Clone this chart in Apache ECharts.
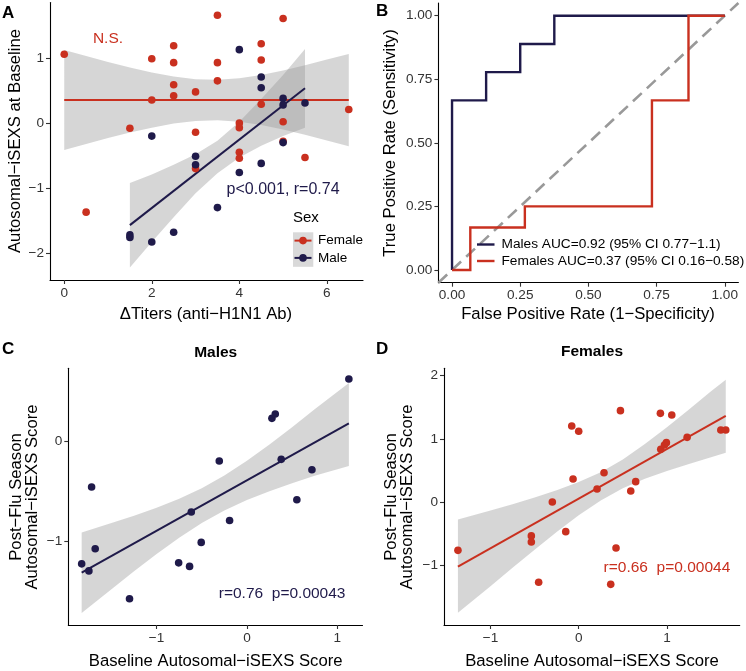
<!DOCTYPE html>
<html>
<head>
<meta charset="utf-8">
<script src="https://cdn.jsdelivr.net/npm/echarts@6/dist/echarts.min.js"></script>
<style>html,body{margin:0;padding:0;background:#fff}#c{width:746px;height:671px}</style>
</head>
<body>
<div id="c"></div>
<script>
// ---------- Panel A: ΔTiters vs baseline score ----------
const aFemaleTiter    = [0, 0.5, 1.5, 2, 2, 2.5, 2.5, 2.5, 2.5, 3, 3, 3, 3.5, 3.5, 3.5, 4, 4, 4, 4, 4.5, 4.5, 4.5, 5, 5, 5, 5.5, 6.5];
const aFemaleBaseline = [1.06, -1.37, -0.08, 0.99, 0.355, 1.19, 0.93, 0.59, 0.42, 0.48, -0.14, -0.70, 1.66, 0.93, 0.65, 0.0, -0.07, -0.45, -0.54, 1.22, 0.97, 0.29, 1.61, 0.02, -0.28, -0.53, 0.21];
const aMaleTiter      = [1.5, 1.5, 2, 2, 2.5, 3, 3, 3.5, 4, 4, 4.5, 4.5, 4.5, 5, 5, 5, 5.5];
const aMaleBaseline   = [-1.72, -1.76, -0.2, -1.83, -1.68, -0.51, -0.64, -1.30, 1.13, -0.76, 0.71, 0.545, -0.62, 0.38, 0.28, -0.30, 0.31];
const aFemaleFitX = [0, 6.5];
const aFemaleFitY = [0.355, 0.355];
const aMaleFitX   = [1.5, 5.5];
const aMaleFitY   = [-1.57, 0.535];
const aFemaleBandX  = [0, 0.5, 1, 1.5, 2, 2.5, 3, 3.5, 4, 4.5, 5, 5.5, 6, 6.5];
const aFemaleBandHi = [1.125, 1.031, 0.941, 0.856, 0.78, 0.717, 0.676, 0.666, 0.689, 0.74, 0.809, 0.889, 0.977, 1.065];
const aFemaleBandLo = [-0.415, -0.321, -0.231, -0.146, -0.07, -0.007, 0.034, 0.045, 0.021, -0.03, -0.099, -0.179, -0.267, -0.355];
const aMaleBandX  = [1.5, 2, 2.5, 3, 3.5, 4, 4.5, 5, 5.5];
const aMaleBandHi = [-0.92, -0.79, -0.64, -0.48, -0.27, 0.02, 0.37, 0.74, 1.14];
const aMaleBandLo = [-2.22, -1.83, -1.45, -1.08, -0.77, -0.53, -0.35, -0.20, -0.07];
const aXTicks = [0, 2, 4, 6];
const aYTicks = [-2, -1, 0, 1];

// ---------- Panel B: ROC curves ----------
const rocMaleFPR   = [0, 0, 0.125, 0.125, 0.25, 0.25, 0.375, 0.375, 1];
const rocMaleTPR   = [0, 0.667, 0.667, 0.778, 0.778, 0.889, 0.889, 1, 1];
const rocFemaleFPR = [0, 0.067, 0.067, 0.267, 0.267, 0.733, 0.733, 0.867, 0.867, 1];
const rocFemaleTPR = [0, 0, 0.167, 0.167, 0.25, 0.25, 0.667, 0.667, 1, 1];
const rocDiagonal  = [-0.05, 1.05];
const bTicks = [0, 0.25, 0.5, 0.75, 1];
const bLegend = ['Males AUC=0.92 (95% CI 0.77\u22121.1)', 'Females AUC=0.37 (95% CI 0.16\u22120.58)'];

// ---------- Panel C: Males baseline vs post-flu ----------
const cBaseline = [-1.83, -1.75, -1.72, -1.68, -1.30, -0.756, -0.635, -0.616, -0.506, -0.306, -0.192, 0.277, 0.314, 0.38, 0.553, 0.72, 1.129];
const cPostFlu  = [-1.22, -1.29, -0.457, -1.07, -1.566, -1.21, -1.245, -0.705, -1.007, -0.199, -0.79, 0.225, 0.268, -0.182, -0.583, -0.285, 0.616];
const cFitX = [-1.83, 1.129];
const cFitY = [-1.308, 0.175];
const cBandX  = [-1.83, -1.5, -1.25, -1, -0.75, -0.5, -0.25, 0, 0.25, 0.5, 0.75, 1.129];
const cBandHi = [-0.908, -0.815, -0.741, -0.662, -0.573, -0.469, -0.343, -0.196, -0.034, 0.137, 0.315, 0.575];
const cBandLo = [-1.708, -1.471, -1.293, -1.122, -0.961, -0.815, -0.690, -0.586, -0.498, -0.419, -0.345, -0.248];
const cXTicks = [-1, 0, 1];
const cYTicks = [-1, 0];

// ---------- Panel D: Females baseline vs post-flu ----------
const dBaseline = [-1.369, -0.537, -0.537, -0.454, -0.299, -0.147, -0.079, -0.064, 0.0, 0.208, 0.287, 0.363, 0.423, 0.473, 0.59, 0.646, 0.926, 0.93, 0.972, 0.994, 1.055, 1.229, 1.611, 1.667];
const dPostFlu  = [-0.758, -0.53, -0.626, -1.263, 0.005, -0.463, 1.205, 0.368, 1.121, 0.21, 0.468, -1.295, -0.721, 1.447, 0.179, 0.326, 1.405, 0.837, 0.905, 0.942, 1.379, 1.026, 1.142, 1.142];
const dFitX = [-1.369, 1.667];
const dFitY = [-1.016, 1.363];
const dBandX  = [-1.369, -1, -0.75, -0.5, -0.25, 0, 0.25, 0.5, 0.75, 1, 1.25, 1.5, 1.667];
const dBandHi = [-0.27, -0.130, -0.029, 0.077, 0.191, 0.319, 0.476, 0.677, 0.919, 1.186, 1.466, 1.753, 1.935];
const dBandLo = [-1.745, -1.324, -1.034, -0.747, -0.469, -0.205, 0.030, 0.221, 0.371, 0.495, 0.606, 0.711, 0.784];
const dXTicks = [-1, 0, 1];
const dYTicks = [-1, 0, 1, 2];

// ---------- styling ----------
const RED = '#C9301F';
const NAVY = '#1F1A4A';
const FONT = 'Liberation Sans, Arial, sans-serif';
const BAND = 'rgba(153,153,153,0.4)';

const zip = (xs, ys) => xs.map((x, i) => [x, ys[i]]);
const minus = v => String(+(+v).toFixed(2)).replace('-', '\u2212');

function axis(idx, type, min, max, ticks, fmt) {
  return {
    type: 'value', gridIndex: idx, min: min, max: max,
    axisLine: { show: true, onZero: false, lineStyle: { color: '#000', width: 1.1 } },
    axisTick: { show: true, length: 4, customValues: ticks, lineStyle: { color: '#333', width: 1.1 } },
    axisLabel: { show: true, customValues: ticks, margin: 6, color: '#333', fontSize: 13.6, fontFamily: FONT, formatter: fmt || minus },
    splitLine: { show: false }
  };
}
function band(idx, xs, hi, lo) {
  return {
    type: 'custom', xAxisIndex: idx, yAxisIndex: idx, z: 1, silent: true, clip: true,
    data: [[xs[0], hi[0]]],
    renderItem: function (params, api) {
      const pts = [];
      for (let i = 0; i < xs.length; i++) pts.push(api.coord([xs[i], hi[i]]));
      for (let i = xs.length - 1; i >= 0; i--) pts.push(api.coord([xs[i], lo[i]]));
      return { type: 'polygon', shape: { points: pts }, style: { fill: BAND, stroke: null } };
    }
  };
}
function line(idx, xs, ys, color, width, z, dash) {
  return {
    type: 'line', xAxisIndex: idx, yAxisIndex: idx, data: zip(xs, ys), z: z || 2,
    showSymbol: false, symbol: 'none', silent: true,
    lineStyle: { color: color, width: width || 2, type: dash || 'solid', cap: 'butt', join: 'miter' }
  };
}
function points(idx, xs, ys, color) {
  return {
    type: 'scatter', xAxisIndex: idx, yAxisIndex: idx, data: zip(xs, ys), z: 3,
    symbol: 'circle', symbolSize: 7.6, itemStyle: { color: color, opacity: 1 }, silent: true
  };
}
function note(idx, x, y, text, color, size) {
  return {
    type: 'scatter', xAxisIndex: idx, yAxisIndex: idx, data: [[x, y]], z: 4, symbolSize: 1, silent: true,
    itemStyle: { color: 'rgba(0,0,0,0)', opacity: 1 },
    label: { show: true, position: 'inside', formatter: text, color: color, opacity: 1, fontSize: size || 15.5, fontFamily: FONT }
  };
}
function txt(x, y, text, opts) {
  opts = opts || {};
  return {
    type: 'text', x: x, y: y, rotation: opts.rot || 0, z: 10,
    style: {
      text: text, fill: opts.color || '#000', align: opts.align || 'center', verticalAlign: 'middle',
      font: (opts.weight || 'normal') + ' ' + (opts.size || 16.7) + 'px ' + FONT, lineHeight: opts.lh || 17
    }
  };
}

const option = {
  animation: false,
  backgroundColor: '#fff',
  grid: [
    { left: 50, top: 2.6, width: 313, height: 277.4 },
    { left: 438.4, top: 3, width: 300, height: 279.7 },
    { left: 68.3, top: 368.3, width: 294.2, height: 256.7 },
    { left: 444, top: 368.3, width: 295.7, height: 256.7 }
  ],
  xAxis: [
    axis(0, 'x', -0.325, 6.825, aXTicks),
    axis(1, 'x', -0.05, 1.05, bTicks, v => (+v).toFixed(2)),
    axis(2, 'x', -1.978, 1.28, cXTicks),
    axis(3, 'x', -1.527, 1.825, dXTicks)
  ],
  yAxis: [
    axis(0, 'y', -2.414, 1.854, aYTicks),
    axis(1, 'y', -0.05, 1.05, bTicks, v => (+v).toFixed(2)),
    axis(2, 'y', -1.827, 0.722, cYTicks),
    axis(3, 'y', -1.937, 2.116, dYTicks)
  ],
  series: [
    // A
    band(0, aFemaleBandX, aFemaleBandHi, aFemaleBandLo),
    band(0, aMaleBandX, aMaleBandHi, aMaleBandLo),
    line(0, aFemaleFitX, aFemaleFitY, RED, 2),
    line(0, aMaleFitX, aMaleFitY, NAVY, 2),
    points(0, aFemaleTiter, aFemaleBaseline, RED),
    points(0, aMaleTiter, aMaleBaseline, NAVY),
    note(0, 1.0, 1.3, 'N.S.', RED),
    note(0, 5.0, -1.03, 'p<0.001, r=0.74', NAVY, 16),
    // B
    line(1, rocDiagonal, rocDiagonal, '#999999', 2.6, 1, [12, 7]),
    line(1, rocMaleFPR, rocMaleTPR, NAVY, 2.4, 2),
    line(1, rocFemaleFPR, rocFemaleTPR, RED, 2.4, 3),
    // C
    band(2, cBandX, cBandHi, cBandLo),
    line(2, cFitX, cFitY, NAVY, 2),
    points(2, cBaseline, cPostFlu, NAVY),
    note(2, 0.39, -1.513, 'r=0.76  p=0.00043', NAVY),
    // D
    band(3, dBandX, dBandHi, dBandLo),
    line(3, dFitX, dFitY, RED, 2),
    points(3, dBaseline, dPostFlu, RED),
    note(3, 1.0, -1.026, 'r=0.66  p=0.00044', RED)
  ],
  graphic: [
    // panel letters
    txt(2, 13, 'A', { align: 'left', weight: 'bold', size: 17 }),
    txt(376, 11, 'B', { align: 'left', weight: 'bold', size: 17 }),
    txt(2, 349, 'C', { align: 'left', weight: 'bold', size: 17 }),
    txt(376, 349, 'D', { align: 'left', weight: 'bold', size: 17 }),
    // axis titles
    txt(15, 141, 'Autosomal\u2212iSEXS at Baseline', { rot: Math.PI / 2 }),
    txt(206, 314, '\u0394Titers (anti\u2212H1N1 Ab)'),
    txt(390, 143, 'True Positive Rate (Sensitivity)', { rot: Math.PI / 2 }),
    txt(588, 314, 'False Positive Rate (1\u2212Specificity)'),
    txt(24.5, 497, 'Post\u2212Flu Season\nAutosomal\u2212iSEXS Score', { rot: Math.PI / 2, lh: 16.5 }),
    txt(215.7, 661, 'Baseline Autosomal\u2212iSEXS Score'),
    txt(399.5, 497, 'Post\u2212Flu Season\nAutosomal\u2212iSEXS Score', { rot: Math.PI / 2, lh: 16.5 }),
    txt(592, 661, 'Baseline Autosomal\u2212iSEXS Score'),
    // panel titles
    txt(215.7, 353, 'Males', { weight: 'bold', size: 15.5 }),
    txt(592, 352, 'Females', { weight: 'bold', size: 15.5 }),
    // legend A
    txt(293, 218, 'Sex', { align: 'left', size: 15 }),
    { type: 'rect', shape: { x: 293, y: 232.3, width: 20.3, height: 34.5 }, style: { fill: '#D9D9D9' }, z: 9 },
    { type: 'line', shape: { x1: 294.5, y1: 240.6, x2: 311.5, y2: 240.6 }, style: { stroke: RED, lineWidth: 2 }, z: 10 },
    { type: 'circle', shape: { cx: 303, cy: 240.6, r: 3.8 }, style: { fill: RED }, z: 11 },
    { type: 'line', shape: { x1: 294.5, y1: 257.9, x2: 311.5, y2: 257.9 }, style: { stroke: NAVY, lineWidth: 2 }, z: 10 },
    { type: 'circle', shape: { cx: 303, cy: 257.9, r: 3.8 }, style: { fill: NAVY }, z: 11 },
    txt(318, 240.6, 'Female', { align: 'left', size: 13.5 }),
    txt(318, 257.9, 'Male', { align: 'left', size: 13.5 }),
    // legend B
    { type: 'line', shape: { x1: 477, y1: 244.5, x2: 494.5, y2: 244.5 }, style: { stroke: NAVY, lineWidth: 2.4 }, z: 10 },
    { type: 'line', shape: { x1: 477, y1: 261, x2: 494.5, y2: 261 }, style: { stroke: RED, lineWidth: 2.4 }, z: 10 },
    txt(501.5, 244.5, bLegend[0], { align: 'left', size: 13.7 }),
    txt(501.5, 261, bLegend[1], { align: 'left', size: 13.7 })
  ]
};

const chart = echarts.init(document.getElementById('c'), null, { renderer: 'canvas' });
chart.setOption(option);
</script>
</body>
</html>
